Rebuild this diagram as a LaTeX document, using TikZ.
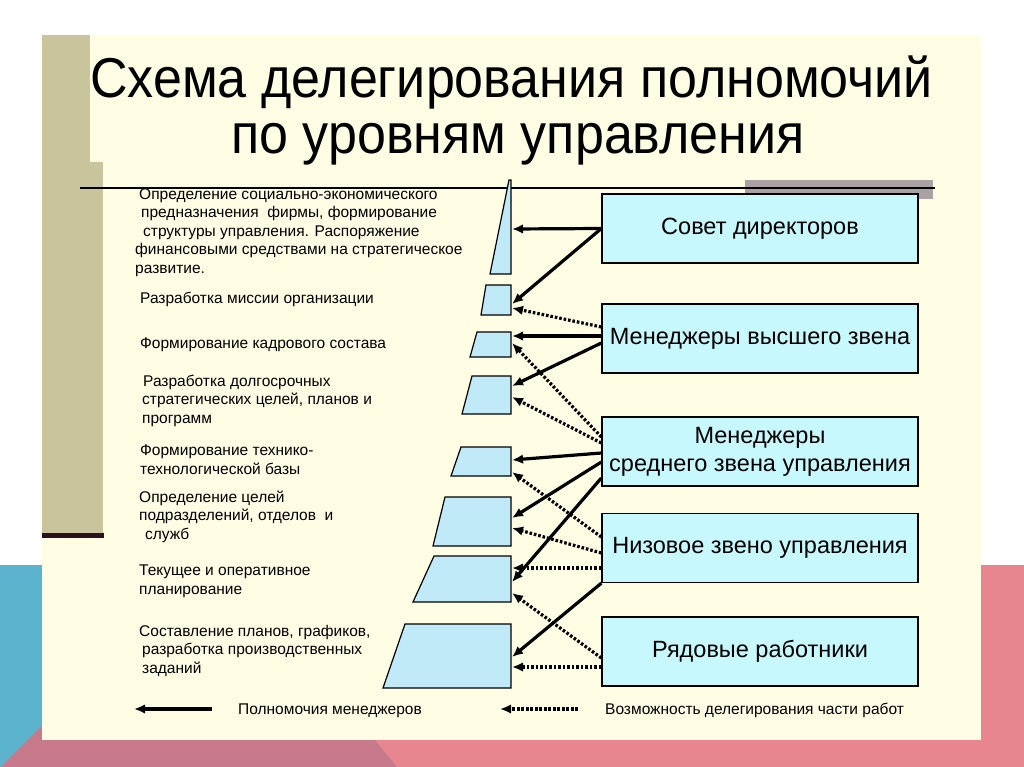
\documentclass[tikz,border=0pt]{standalone}
\usepackage{graphicx}
\usepackage{fontspec}
\setmainfont{Liberation Sans}
\usetikzlibrary{arrows.meta,calc}
\definecolor{cream}{HTML}{FFFDE4}
\definecolor{olive}{HTML}{C9C49C}
\definecolor{darkline}{HTML}{2A0F1E}
\definecolor{greybar}{HTML}{A9A1A3}
\definecolor{boxc}{HTML}{C6F8FD}
\definecolor{trapc}{HTML}{C1EAF8}
\definecolor{pinkc}{HTML}{E8868F}
\definecolor{mauvec}{HTML}{C77A8C}
\definecolor{bluec}{HTML}{5BB3CD}
\begin{document}
\begin{tikzpicture}[x=1pt,y=-1pt,
  box/.style={draw=black,line width=1.3pt,fill=boxc,minimum width=316pt,minimum height=69pt,inner sep=0pt,font=\fontsize{23.5}{28}\selectfont,align=center},
  trap/.style={draw=black,line width=1.2pt,fill=trapc},
  lbl/.style={anchor=base west,inner sep=0pt,font=\fontsize{15.5}{18.5}\selectfont,align=left},
  ttl/.style={anchor=base,inner sep=0pt,font=\fontsize{52}{56}\selectfont},
  solidarr/.style={line width=3.2pt,-{Latex[length=11pt,width=9.5pt]}},
  dotarr/.style={line width=3.2pt,dash pattern=on 2.6pt off 1.9pt,-{Latex[length=11pt,width=9.5pt]}}
]
\useasboundingbox (0,0) rectangle (1024,767);
% background shapes
\fill[white] (0,0) rectangle (1024,767);
\fill[pinkc] (0,565) rectangle (1024,767);
\fill[mauvec] (0,767) -- (202,565) -- (232,565) -- (397,767) -- cycle;
\fill[bluec] (0,565) -- (202,565) -- (0,767) -- cycle;
\fill[cream] (42,35) rectangle (981,740);
\fill[olive] (42,35) rectangle (90,533);
\fill[olive] (90,162) rectangle (103,533);
\fill[darkline] (42,533) rectangle (104,538);
\fill[greybar] (745,180) rectangle (933,199);
\draw[line width=2pt] (80,188.5) -- (935,188.5);
% title
\node[ttl] (title1) at (511.5,98) {\scalebox{1}[1.08]{Схема делегирования полномочий}};
\node[ttl] (title2) at (518,154) {\scalebox{1}[1.08]{по уровням управления}};
% boxes
\node[box] (b1) at (760,228.5) {Совет директоров};
\node[box] (b2) at (760,338.5) {Менеджеры высшего звена};
\node[box] (b3) at (760,451.5) {Менеджеры\\среднего звена управления};
\node[box] (b4) at (760,548) {Низовое звено управления};
\node[box] (b5) at (760,651.5) {Рядовые работники};
% trapezoids
\draw[trap] (509,180) -- (511,180) -- (511,274) -- (490,274) -- cycle;
\draw[trap] (486,285) -- (511,285) -- (511,315) -- (481,315) -- cycle;
\draw[trap] (477,332) -- (511,332) -- (511,357) -- (470,357) -- cycle;
\draw[trap] (472,376) -- (511,376) -- (511,414) -- (462,414) -- cycle;
\draw[trap] (461,447) -- (511,447) -- (511,476) -- (451,476) -- cycle;
\draw[trap] (445,497) -- (511,497) -- (511,546) -- (433,546) -- cycle;
\draw[trap] (434,556) -- (511,556) -- (511,602) -- (413,602) -- cycle;
\draw[trap] (405,624) -- (511,624) -- (511,688) -- (383,688) -- cycle;
\coordinate (t1) at (512,227);
\coordinate (t2) at (512,300);
\coordinate (t3) at (512,344.5);
\coordinate (t4) at (512,395);
\coordinate (t5) at (512,461.5);
\coordinate (t6) at (512,521.5);
\coordinate (t7) at (512,579);
\coordinate (t8) at (512,656);
% solid arrows
\draw[solidarr] (b1.west) -- ([yshift=-2pt]t1);
\draw[solidarr] (b1.west) -- ([yshift=-4pt]t2);
\draw[solidarr] ([yshift=2.5pt]b2.west) -- ([yshift=8.5pt]t3);
\draw[solidarr] ([yshift=-4.5pt]b2.west) -- ([yshift=9pt]t4);
\draw[solidarr] ([yshift=-1.5pt]b3.west) -- ([yshift=1.5pt]t5);
\draw[solidarr] ([yshift=-10.5pt]b3.west) -- ([yshift=3.5pt]t6);
\draw[solidarr] ([yshift=-26.5pt]b3.west) -- ([yshift=-3pt]t7);
\draw[solidarr] (b4.south west) -- ([yshift=-1pt]t8);
% dotted arrows
\draw[dotarr] ([yshift=11.5pt]b2.west) -- ([yshift=-8pt]t2);
\draw[dotarr] ([yshift=14.5pt]b3.west) -- ([yshift=1.5pt]t3);
\draw[dotarr] ([yshift=8.5pt]b3.west) -- ([yshift=-2pt]t4);
\draw[dotarr] ([yshift=11pt]b4.west) -- ([yshift=-10.5pt]t5);
\draw[dotarr] ([yshift=-5pt]b4.west) -- ([yshift=-6.5pt]t6);
\draw[dotarr] ([yshift=-20pt]b4.west) -- ([yshift=11pt]t7);
\draw[dotarr] ([yshift=-6.5pt]b5.west) -- ([yshift=-14pt]t7);
\draw[dotarr] ([yshift=-15.5pt]b5.west) -- ([yshift=-11pt]t8);
% labels (anchor = baseline of the last line)
\node[lbl] (l1) at (135,273) {\hspace*{4pt}Определение социально-экономического\\\hspace*{6pt}предназначения\ \ фирмы, формирование\\\hspace*{8pt}структуры управления. Распоряжение\\финансовыми средствами на стратегическое\\развитие.};
\node[lbl] (l2) at (140,303) {Разработка миссии организации};
\node[lbl] (l3) at (140,348) {Формирование кадрового состава};
\node[lbl] (l4) at (142,423) {\hspace*{1pt}Разработка долгосрочных\\стратегических целей, планов и\\программ};
\node[lbl] (l5) at (140,474) {Формирование технико-\\технологической базы};
\node[lbl] (l6) at (139,539) {Определение целей\\подразделений, отделов\ \ и\\\hspace*{6pt}служб};
\node[lbl] (l7) at (139,594) {Текущее и оперативное\\планирование};
\node[lbl] (l8) at (139,673) {Составление планов, графиков,\\\hspace*{3pt}разработка производственных\\\hspace*{3pt}заданий};
% legend
\coordinate (ls1) at (212,709);
\coordinate (le1) at (134,709);
\coordinate (ls2) at (578,709);
\coordinate (le2) at (500,709);
\draw[solidarr] (ls1) -- (le1);
\draw[dotarr] (ls2) -- (le2);
\node[lbl] (lg1) at (238,714) {Полномочия менеджеров};
\node[lbl] (lg2) at (605,714) {Возможность делегирования части работ};
\end{tikzpicture}
\end{document}
